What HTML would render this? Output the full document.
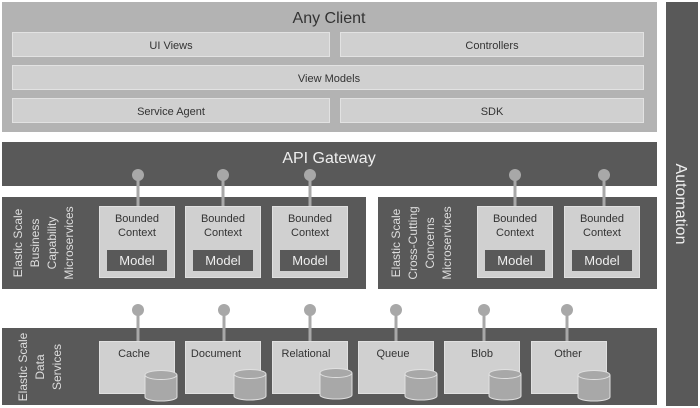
<!DOCTYPE html>
<html><head><meta charset="utf-8"><style>
html,body{margin:0;padding:0;background:#fff;}
svg{display:block;font-family:"Liberation Sans",sans-serif;}
</style></head><body>
<svg width="700" height="408" viewBox="0 0 700 408" xmlns="http://www.w3.org/2000/svg">
<rect x="0" y="0" width="700" height="408" fill="#fff"/>
<rect x="2" y="2" width="655" height="130" fill="#b3b3b3"/>
<text x="329" y="23" font-size="16" text-anchor="middle" fill="#333">Any Client</text>
<g fill="#d0d0d0" stroke="#e2e2e2" stroke-width="1">
<rect x="12.5" y="32.5" width="317" height="24"/>
<rect x="340.5" y="32.5" width="303" height="24"/>
<rect x="12.5" y="65.5" width="631" height="24"/>
<rect x="12.5" y="98.5" width="317" height="24"/>
<rect x="340.5" y="98.5" width="303" height="24"/>
</g>
<g font-size="11" text-anchor="middle" fill="#333">
<text x="171" y="49">UI Views</text>
<text x="492" y="49">Controllers</text>
<text x="329" y="82">View Models</text>
<text x="171" y="115">Service Agent</text>
<text x="492" y="115">SDK</text>
</g>
<rect x="2" y="142" width="655" height="44" fill="#595959"/>
<text x="329" y="163" font-size="16" text-anchor="middle" fill="#eee">API Gateway</text>
<rect x="666" y="2" width="32" height="404" fill="#595959"/>
<text transform="translate(676,204) rotate(90)" font-size="16" text-anchor="middle" fill="#eee">Automation</text>
<rect x="2" y="197" width="364" height="92" fill="#595959"/>
<rect x="378" y="197" width="279" height="92" fill="#595959"/>
<rect x="2" y="328" width="655" height="77" fill="#595959"/>
<g font-size="12" fill="#ddd" text-anchor="middle">
<g transform="translate(43,243) rotate(-90)">
<text x="0" y="-21">Elastic Scale</text><text x="0" y="-4">Business</text><text x="0" y="13">Capability</text><text x="0" y="30">Microservices</text>
</g>
<g transform="translate(421,243) rotate(-90)">
<text x="0" y="-21">Elastic Scale</text><text x="0" y="-4">Cross-Cutting</text><text x="0" y="13">Concerns</text><text x="0" y="30">Microservices</text>
</g>
<g transform="translate(40,367) rotate(-90)">
<text x="0" y="-13">Elastic Scale</text><text x="0" y="4">Data</text><text x="0" y="21">Services</text>
</g>
</g>
<g stroke="#a8a8a8" stroke-width="3">
<line x1="138" y1="175" x2="138" y2="206"/><line x1="223" y1="175" x2="223" y2="206"/><line x1="310" y1="175" x2="310" y2="206"/>
<line x1="515" y1="175" x2="515" y2="206"/><line x1="604" y1="175" x2="604" y2="206"/>
</g>
<g fill="#a8a8a8">
<circle cx="138" cy="175" r="6"/><circle cx="223" cy="175" r="6"/><circle cx="310" cy="175" r="6"/>
<circle cx="515" cy="175" r="6"/><circle cx="604" cy="175" r="6"/>
</g>
<g fill="#d0d0d0" stroke="#e0e0e0">
<rect x="99.5" y="206.5" width="75" height="71"/>
<rect x="185.5" y="206.5" width="75" height="71"/>
<rect x="272.5" y="206.5" width="75" height="71"/>
<rect x="477.5" y="206.5" width="75" height="71"/>
<rect x="564.5" y="206.5" width="75" height="71"/>
</g>
<g fill="#595959">
<rect x="107" y="250" width="60" height="21"/>
<rect x="193" y="250" width="60" height="21"/>
<rect x="280" y="250" width="60" height="21"/>
<rect x="485" y="250" width="60" height="21"/>
<rect x="572" y="250" width="60" height="21"/>
</g>
<g font-size="11" text-anchor="middle" fill="#333">
<text x="137" y="222">Bounded</text><text x="137" y="236">Context</text>
<text x="223" y="222">Bounded</text><text x="223" y="236">Context</text>
<text x="310" y="222">Bounded</text><text x="310" y="236">Context</text>
<text x="515" y="222">Bounded</text><text x="515" y="236">Context</text>
<text x="602" y="222">Bounded</text><text x="602" y="236">Context</text>
</g>
<g font-size="13" text-anchor="middle" fill="#eee">
<text x="137" y="265">Model</text><text x="223" y="265">Model</text><text x="310" y="265">Model</text>
<text x="515" y="265">Model</text><text x="602" y="265">Model</text>
</g>
<g stroke="#a8a8a8" stroke-width="3">
<line x1="138" y1="310" x2="138" y2="341"/><line x1="224" y1="310" x2="224" y2="341"/><line x1="310" y1="310" x2="310" y2="341"/>
<line x1="396" y1="310" x2="396" y2="341"/><line x1="484" y1="310" x2="484" y2="341"/><line x1="567" y1="310" x2="567" y2="341"/>
</g>
<g fill="#a8a8a8">
<circle cx="138" cy="310" r="6"/><circle cx="224" cy="310" r="6"/><circle cx="310" cy="310" r="6"/>
<circle cx="396" cy="310" r="6"/><circle cx="484" cy="310" r="6"/><circle cx="567" cy="310" r="6"/>
</g>
<g fill="#d0d0d0" stroke="#e0e0e0">
<rect x="99.5" y="341.5" width="75" height="52"/>
<rect x="185.5" y="341.5" width="75" height="52"/>
<rect x="272.5" y="341.5" width="75" height="52"/>
<rect x="358.5" y="341.5" width="75" height="52"/>
<rect x="444.5" y="341.5" width="75" height="52"/>
<rect x="531.5" y="341.5" width="75" height="52"/>
</g>
<g font-size="11" text-anchor="middle" fill="#333">
<text x="134" y="357">Cache</text><text x="216" y="357">Document</text><text x="306" y="357">Relational</text>
<text x="393" y="357">Queue</text><text x="482" y="357">Blob</text><text x="568" y="357">Other</text>
</g>
<g fill="#a8a8a8" stroke="#e0e0e0" stroke-width="1">
<g transform="translate(161,0)"><path d="M-16,375 v22 a16,4 0 0 0 32,0 v-22"/><ellipse cx="0" cy="375" rx="16" ry="4.5"/></g>
<g transform="translate(250,-1)"><path d="M-16,375 v22 a16,4 0 0 0 32,0 v-22"/><ellipse cx="0" cy="375" rx="16" ry="4.5"/></g>
<g transform="translate(336,-2)"><path d="M-16,375 v22 a16,4 0 0 0 32,0 v-22"/><ellipse cx="0" cy="375" rx="16" ry="4.5"/></g>
<g transform="translate(421,-1)"><path d="M-16,375 v22 a16,4 0 0 0 32,0 v-22"/><ellipse cx="0" cy="375" rx="16" ry="4.5"/></g>
<g transform="translate(505,-1)"><path d="M-16,375 v22 a16,4 0 0 0 32,0 v-22"/><ellipse cx="0" cy="375" rx="16" ry="4.5"/></g>
<g transform="translate(594,0)"><path d="M-16,375 v22 a16,4 0 0 0 32,0 v-22"/><ellipse cx="0" cy="375" rx="16" ry="4.5"/></g>
</g>
</svg>
</body></html>
